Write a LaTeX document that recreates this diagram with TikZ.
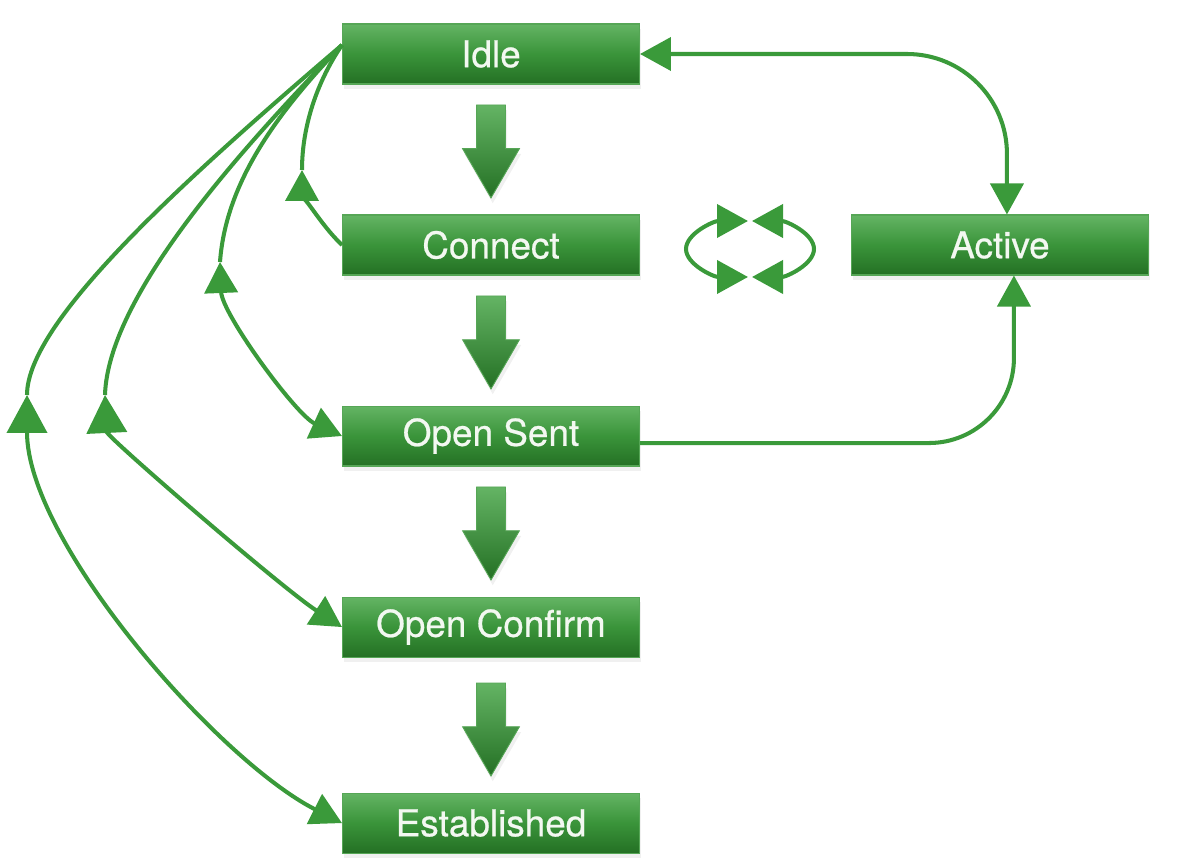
\documentclass[tikz,border=0pt]{standalone}
\usepackage{fontspec}
\setmainfont{TeX Gyre Heros}
\newfontfamily\labelfont{TeX Gyre Heros}[FakeBold=0.6]
\usetikzlibrary{arrows.meta,positioning,shapes.arrows,shadows,calc}

\definecolor{lgreen}{RGB}{58,154,58}
\definecolor{boxtop}{RGB}{100,180,100}
\definecolor{boxmid}{RGB}{58,148,58}
\definecolor{boxbot}{RGB}{36,112,36}
\definecolor{boxline}{RGB}{86,166,86}
\definecolor{labelwhite}{RGB}{243,248,241}

\begin{document}
\begin{tikzpicture}[
  x=0.02cm, y=-0.02cm,
  node distance=2.6cm,
  >={Triangle[length=0.62cm,width=0.66cm]},
  big/.style={{Triangle[length=0.76cm,width=0.8cm]}-{Triangle[length=0.62cm,width=0.66cm]}},
  state/.style={draw=boxline, line width=0.6pt, top color=boxtop, bottom color=boxbot, middle color=boxmid,
    minimum width=5.94cm, minimum height=1.2cm, inner sep=0pt, text=labelwhite,
    font=\labelfont\fontsize{21}{25}\selectfont,
    drop shadow={opacity=0.12, shadow xshift=1pt, shadow yshift=-3pt}},
  blockarrow/.style={single arrow, shape border rotate=270, draw=boxline, line width=0.5pt,
    top color=boxtop, bottom color=boxbot, minimum height=1.86cm, minimum width=1.12cm,
    single arrow head extend=0.28cm, single arrow tip angle=60, inner sep=0.28cm,
    drop shadow={opacity=0.12, shadow xshift=1pt, shadow yshift=-3pt}},
  link/.style={draw=lgreen, line width=2.3pt, fill=none},
]
\useasboundingbox (0,0) rectangle (1184,864);

% states, top to bottom
\node[state] (idle) at (491,54) {Idle};
\node[state, below=of idle] (connect) {Connect};
\node[state, below=of connect] (opensent) {Open Sent};
\node[state, below=of opensent] (openconfirm) {Open Confirm};
\node[state, below=2.7cm of openconfirm] (established) {Established};
\node[state, right=4.22cm of connect] (active) {Active};

% main flow
\node[blockarrow, below=0.4cm of idle, anchor=tail] (a1) {};
\node[blockarrow, below=0.4cm of connect, anchor=tail] (a2) {};
\node[blockarrow, below=0.4cm of opensent, anchor=tail] (a3) {};
\node[blockarrow, below=0.5cm of openconfirm, anchor=tail] (a4) {};

% Connect <-> Active
\draw[link, <->] (748,221) arc[start angle=90, end angle=270, x radius=1.24cm, y radius=0.56cm];
\draw[link, <->] (752,221) arc[start angle=90, end angle=-90, x radius=1.24cm, y radius=0.56cm];

% right side
\draw[link, <->, rounded corners=2cm] (idle.east) -| ([xshift=0.14cm]active.north);
\draw[link, ->, rounded corners=1.7cm] ([yshift=-0.14cm]opensent.east) -| ([xshift=0.28cm]active.south);

% back to Idle
\coordinate (hub) at ([yshift=0.18cm]idle.west);
\coordinate (upA) at (302,170);
\coordinate (upB) at (220,262);
\coordinate (upC) at (105,395);
\coordinate (upD) at (27,395);

\draw[link, ->] (connect.west) .. controls (318,222) and (302,190) .. (upA);
\draw[link] (upA) .. controls (302,125) and (318,80) .. (hub);

\draw[link] (upB) .. controls (226,180) and (280,110) .. (hub);
\draw[link, <->] (upB) .. controls (222,314) and (296,415) .. (opensent.west);

\draw[link] (upC) .. controls (108,300) and (230,160) .. (hub);
\draw[link, big] (upC) .. controls (107,437) and (283,589) .. (openconfirm.west);

\draw[link] (upD) .. controls (27,320) and (190,175) .. (hub);
\draw[link, big] (upD) .. controls (27,542) and (218,760) .. (established.west);
\end{tikzpicture}
\end{document}
